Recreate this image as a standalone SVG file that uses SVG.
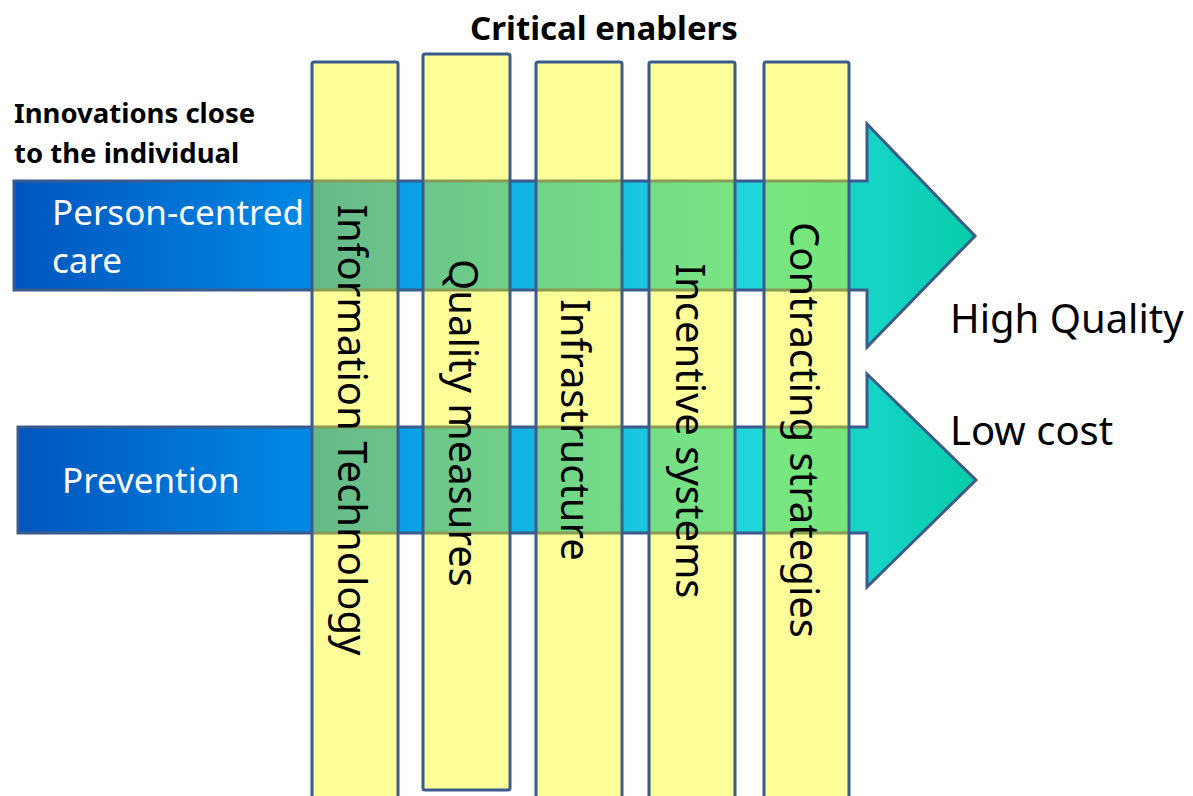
<svg xmlns="http://www.w3.org/2000/svg" width="1193" height="796" viewBox="0 0 1193 796">
  <defs>
    <linearGradient id="flow" gradientUnits="userSpaceOnUse" x1="14" y1="0" x2="976" y2="0">
      <stop offset="0" stop-color="#0055BE"/>
      <stop offset="0.3" stop-color="#0088E4"/>
      <stop offset="0.42" stop-color="#0AA0E6"/>
      <stop offset="0.53" stop-color="#12B4E2"/>
      <stop offset="0.65" stop-color="#1AC6E0"/>
      <stop offset="0.77" stop-color="#20D6DA"/>
      <stop offset="0.9" stop-color="#14D4C4"/>
      <stop offset="1" stop-color="#06CCA8"/>
    </linearGradient>
    <style>
      .arrow { fill: url(#flow); stroke: #3B5B8C; stroke-width: 3; stroke-linejoin: miter; }
      .col { fill: #FFFF00; fill-opacity: 0.4; stroke: #3B5B8C; stroke-width: 3; }
      .coltext { font-family: "Noto Sans", "Open Sans", sans-serif; font-size: 40px; fill: #000; text-anchor: middle; }
      .white { font-family: "Noto Sans", "Open Sans", sans-serif; font-size: 35px; fill: #FFFFFF; }
      .out { font-family: "Noto Sans", "Open Sans", sans-serif; font-size: 40px; fill: #000; }
      .head { font-family: "Noto Sans", "Open Sans", sans-serif; font-weight: bold; fill: #000; }
    </style>
  </defs>

  <g id="title">
    <text class="head" x="604" y="40" font-size="33" text-anchor="middle">Critical enablers</text>
  </g>

  <g id="side-heading">
    <text class="head" x="14" y="123" font-size="27.5">Innovations close</text>
    <text class="head" x="14" y="163" font-size="27.5">to the individual</text>
  </g>

  <g id="arrow-person-centred">
    <path class="arrow" d="M14,181 L867,181 L867,124 L975,236 L867,347 L867,290 L14,290 Z"/>
    <text class="white" x="52" y="225">Person-centred</text>
    <text class="white" x="52" y="273">care</text>
  </g>

  <g id="arrow-prevention">
    <path class="arrow" d="M18,427 L867,427 L867,374 L976,480 L867,587 L867,533 L18,533 Z"/>
    <text class="white" x="62" y="493">Prevention</text>
  </g>

  <g id="outcome-high-quality">
    <text class="out" x="950" y="333">High Quality</text>
  </g>
  <g id="outcome-low-cost">
    <text class="out" x="950" y="445">Low cost</text>
  </g>

  <g id="enabler-information-technology">
    <rect class="col" x="312" y="62" width="86" height="760" rx="2"/>
    <text class="coltext" transform="translate(338,430) rotate(90)" x="0" y="0">Information Technology</text>
  </g>
  <g id="enabler-quality-measures">
    <rect class="col" x="423" y="54" width="87" height="736" rx="2"/>
    <text class="coltext" transform="translate(449,423) rotate(90)" x="0" y="0">Quality measures</text>
  </g>
  <g id="enabler-infrastructure">
    <rect class="col" x="536" y="62" width="86" height="760" rx="2"/>
    <text class="coltext" transform="translate(561,430) rotate(90)" x="0" y="0">Infrastructure</text>
  </g>
  <g id="enabler-incentive-systems">
    <rect class="col" x="649" y="62" width="86" height="760" rx="2"/>
    <text class="coltext" transform="translate(676,431) rotate(90)" x="0" y="0">Incentive systems</text>
  </g>
  <g id="enabler-contracting-strategies">
    <rect class="col" x="764" y="62" width="85" height="760" rx="2"/>
    <text class="coltext" transform="translate(790,430) rotate(90)" x="0" y="0">Contracting strategies</text>
  </g>

  <g id="connectors"></g>
</svg>
